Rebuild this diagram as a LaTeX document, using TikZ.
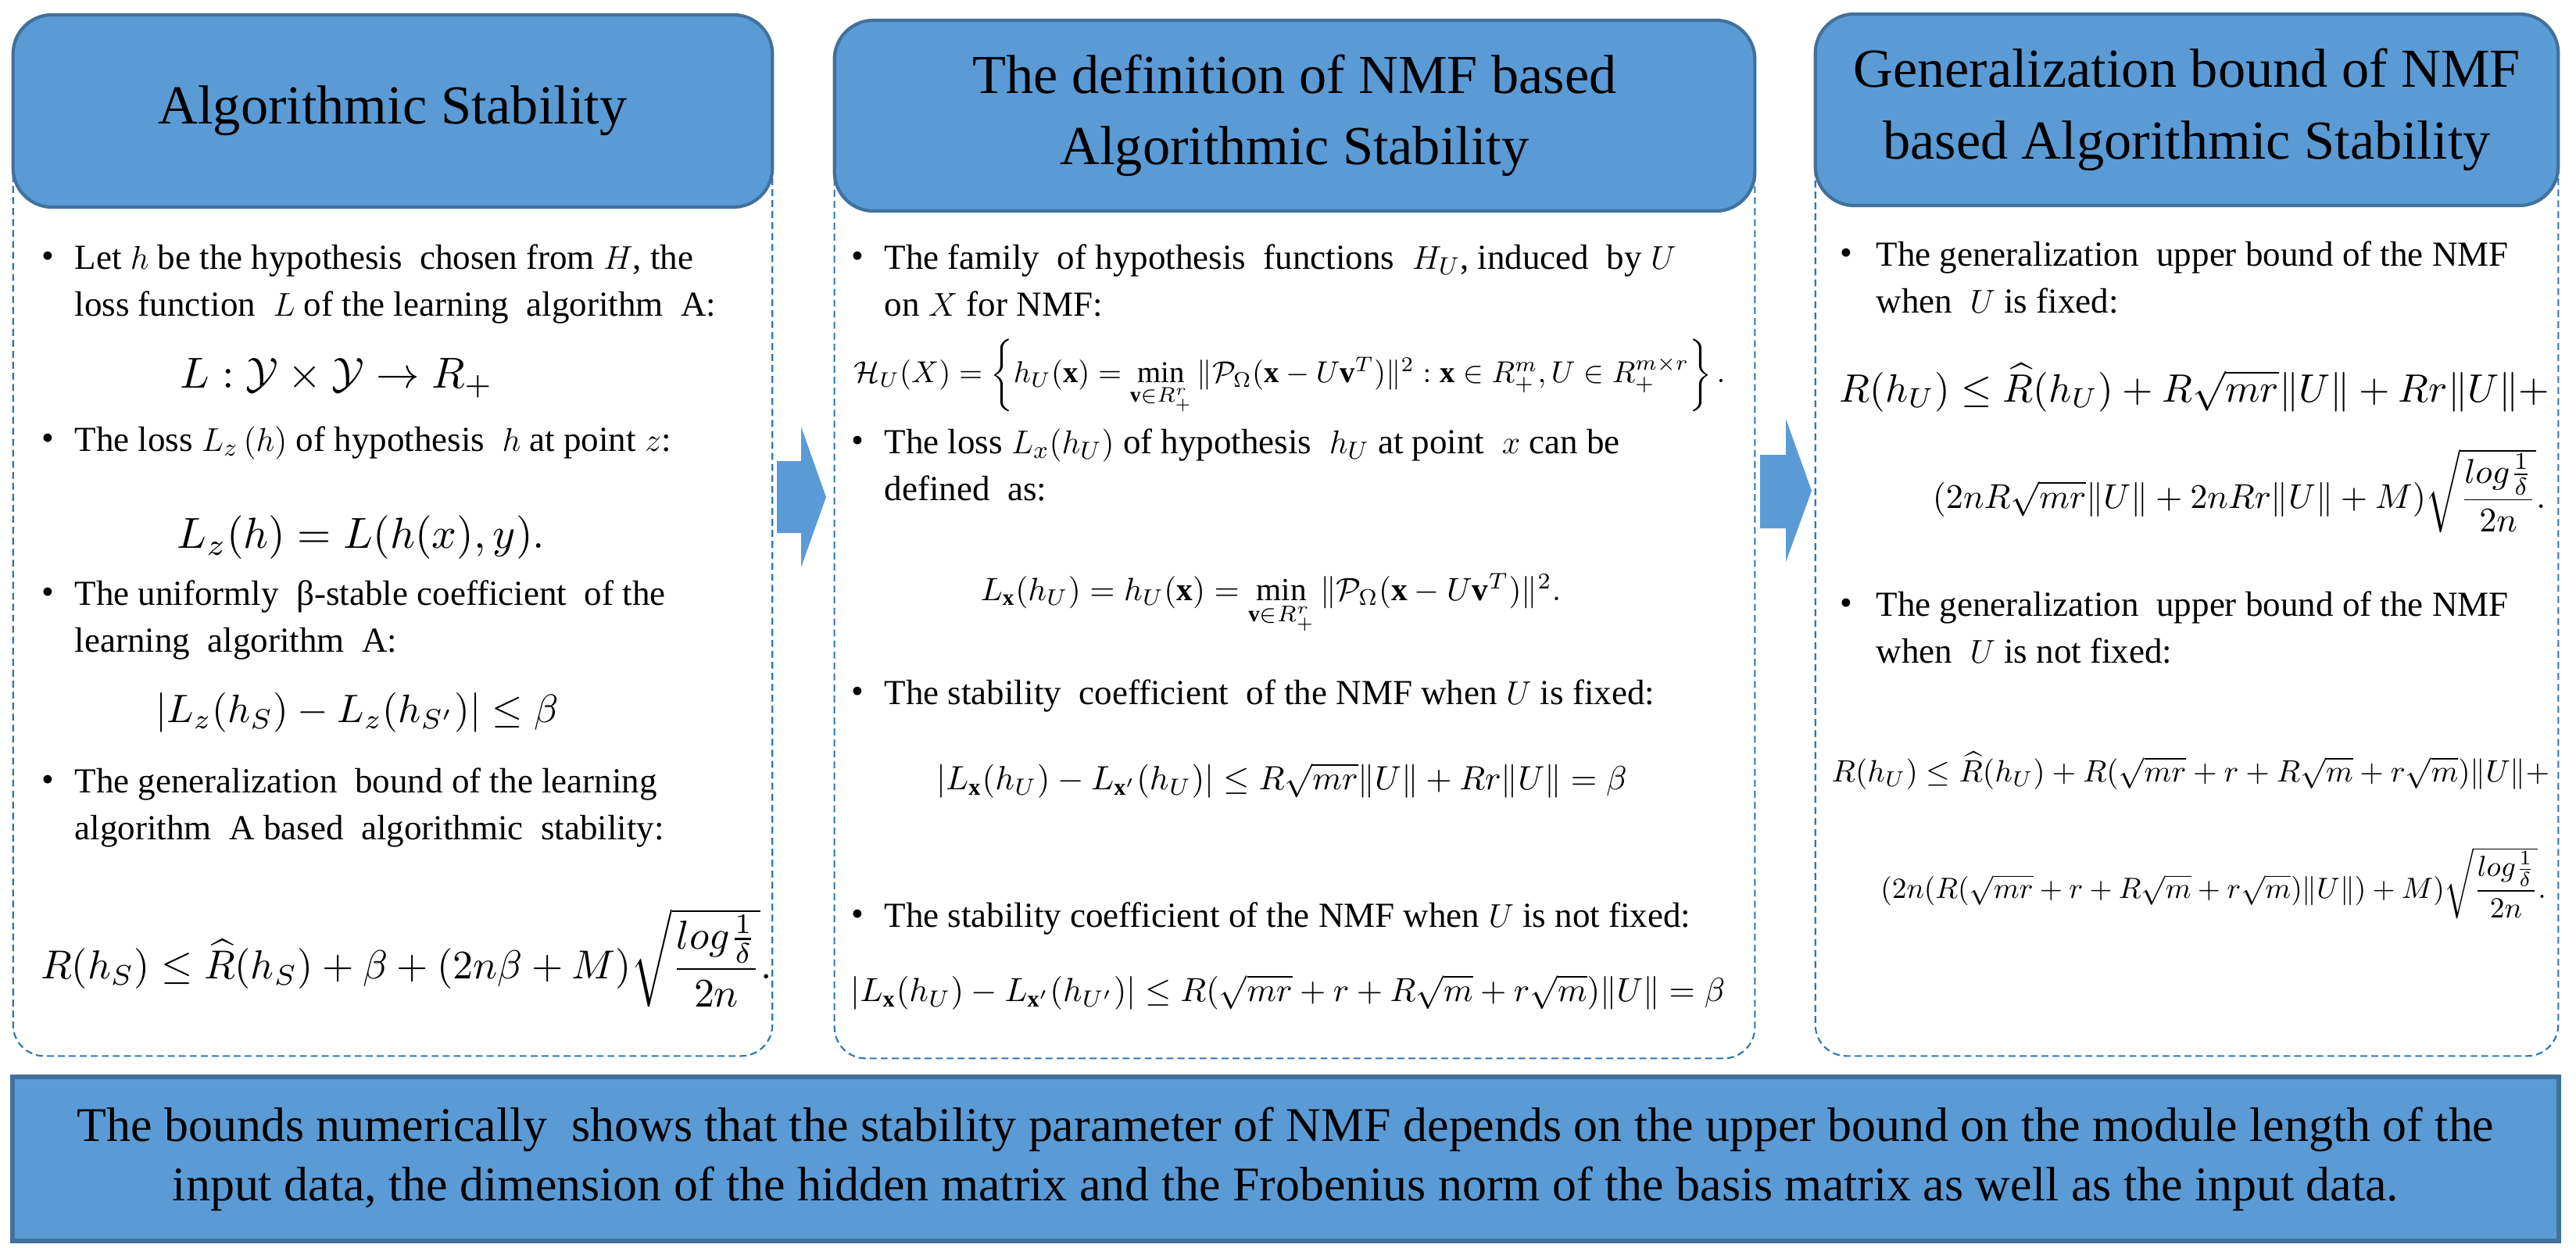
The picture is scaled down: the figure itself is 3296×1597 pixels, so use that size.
\documentclass[tikz,border=0pt]{standalone}
\usepackage{fontspec}
\setmainfont{Liberation Serif}
\usepackage{amsmath,amssymb,graphicx}
\definecolor{hdr}{HTML}{5B9BD5}
\definecolor{hdrb}{HTML}{41719C}
\definecolor{dsh}{HTML}{2E75B6}
\begin{document}
\begin{tikzpicture}[x=0.01cm,y=-0.01cm,
  hdr/.style={draw=hdrb,line width=1.2pt,fill=hdr,rounded corners=0.5cm,align=center,inner sep=0pt,font=\fontsize{20}{26}\selectfont},
  body/.style={draw=dsh,dashed,line width=0.6pt,rounded corners=0.4cm,inner sep=0pt,dash pattern=on 2.5pt off 1.5pt},
  txt/.style={anchor=north west,align=left,inner sep=0pt,font=\fontsize{12.8}{17.2}\selectfont},
  bul/.style={anchor=north west,inner sep=0pt,yshift=-0.1cm,font=\fontsize{12.8}{17.2}\selectfont},
  fml/.style={inner sep=0pt},
  barrow/.style={fill=hdr,draw=none}]
\useasboundingbox (0,0) rectangle (3296,1597);
% panel bodies
\node[body,minimum width=9.71cm,minimum height=12.11cm] (b1) at (502.5,745.5) {};
\node[body,minimum width=11.77cm,minimum height=12.14cm] (b2) at (1656.5,747) {};
\node[body,minimum width=9.50cm,minimum height=12.11cm] (b3) at (2798,745.5) {};
% headers
\node[hdr,minimum width=9.71cm,minimum height=2.46cm] (h1) at (502.5,142) {Algorithmic Stability};
\node[hdr,minimum width=11.77cm,minimum height=2.44cm] (h2) at (1656.5,148) {The definition of NMF based\\Algorithmic Stability};
\node[hdr,minimum width=9.50cm,minimum height=2.45cm] (h3) at (2798,140.5) {Generalization bound of NMF\\based Algorithmic Stability};
% arrows
\fill[barrow] (994,590) -- (1025,590) -- (1025,546) -- (1057,636) -- (1025,726) -- (1025,682) -- (994,682) -- cycle;
\fill[barrow] (2252,582) -- (2285,582) -- (2285,536) -- (2318,628) -- (2285,719) -- (2285,676) -- (2252,676) -- cycle;
% panel 1
\node[bul] (p1a) at (53,312) {\textbullet};
\node[txt] (t1a) at (95,312) {Let $h$ be the hypothesis\ \ chosen from $H$, the\\loss function\ \ $L$ of the learning\ \ algorithm\ \ A:};
\node[fml] (f1) at (431,484) {\resizebox{4.0cm}{!}{$L:\mathcal{Y}\times\mathcal{Y}\to R_+$}};
\node[bul] (p1b) at (53,545) {\textbullet};
\node[txt] (t1b) at (95,545) {The loss $L_z\,(h)$ of hypothesis\ \ $h$ at point $z$:};
\node[fml] (f2) at (462,688) {\resizebox{4.7cm}{!}{$L_z(h)=L(h(x),y).$}};
\node[bul] (p1c) at (53,742) {\textbullet};
\node[txt] (t1c) at (95,742) {The uniformly\ \ β-stable coefficient\ \ of the\\learning\ \ algorithm\ \ A:};
\node[fml] (f3) at (457,912) {\resizebox{5.15cm}{!}{$|L_z(h_S)-L_z(h_{S'})|\le\beta$}};
\node[bul] (p1d) at (53,982) {\textbullet};
\node[txt] (t1d) at (95,982) {The generalization\ \ bound of the learning\\algorithm\ \ A based\ \ algorithmic\ \ stability:};
\node[fml] (f4) at (520,1226) {\resizebox{9.35cm}{!}{$R(h_S)\le\widehat{R}(h_S)+\beta+(2n\beta+M)\sqrt{\dfrac{log\frac{1}{\delta}}{2n}}.$}};
% panel 2
\node[bul] (p2a) at (1089,312) {\textbullet};
\node[txt] (t2a) at (1131,312) {The family\ \ of hypothesis\ \ functions\ \ $H_U$, induced\ \ by $U$\\on $X$ for NMF:};
\node[fml] (f5) at (1650,482) {\resizebox{11.14cm}{!}{$\mathcal{H}_U(X)=\left\{h_U(\mathbf{x})=\min\limits_{\mathbf{v}\in R_+^r}\|\mathcal{P}_\Omega(\mathbf{x}-U\mathbf{v}^T)\|^2:\mathbf{x}\in R_+^m,U\in R_+^{m\times r}\right\}.$}};
\node[bul] (p2b) at (1089,548) {\textbullet};
\node[txt] (t2b) at (1131,548) {The loss $L_x(h_U)$ of hypothesis\ \ $h_U$ at point\ \ $x$ can be\\defined\ \ as:};
\node[fml] (f6) at (1626,773) {\resizebox{7.42cm}{!}{$L_{\mathbf{x}}(h_U)=h_U(\mathbf{x})=\min\limits_{\mathbf{v}\in R_+^r}\|\mathcal{P}_\Omega(\mathbf{x}-U\mathbf{v}^T)\|^2.$}};
\node[bul] (p2c) at (1089,869) {\textbullet};
\node[txt] (t2c) at (1131,869) {The stability\ \ coefficient\ \ of the NMF when $U$ is fixed:};
\node[fml] (f7) at (1640,999) {\resizebox{8.83cm}{!}{$|L_{\mathbf{x}}(h_U)-L_{\mathbf{x}'}(h_U)|\le R\sqrt{mr}\|U\|+Rr\|U\|=\beta$}};
\node[bul] (p2d) at (1089,1154) {\textbullet};
\node[txt] (t2d) at (1131,1154) {The stability coefficient of the NMF when $U$ is not fixed:};
\node[fml] (f8) at (1648,1270) {\resizebox{11.18cm}{!}{$|L_{\mathbf{x}}(h_U)-L_{\mathbf{x}'}(h_{U'})|\le R(\sqrt{mr}+r+R\sqrt{m}+r\sqrt{m})\|U\|=\beta$}};
% panel 3
\node[bul] (p3a) at (2354,308) {\textbullet};
\node[txt] (t3a) at (2400,308) {The generalization\ \ upper bound of the NMF\\when\ \ $U$ is fixed:};
\node[fml] (f9) at (2808,496) {\resizebox{9.08cm}{!}{$R(h_U)\le\widehat{R}(h_U)+R\sqrt{mr}\|U\|+Rr\|U\|+$}};
\node[fml,anchor=east] (f10) at (3258,628) {\resizebox{7.84cm}{!}{$(2nR\sqrt{mr}\|U\|+2nRr\|U\|+M)\sqrt{\dfrac{log\frac{1}{\delta}}{2n}}.$}};
\node[bul] (p3b) at (2354,756) {\textbullet};
\node[txt] (t3b) at (2400,756) {The generalization\ \ upper bound of the NMF\\when\ \ $U$ is not fixed:};
\node[fml] (f11) at (2803,986) {\resizebox{9.18cm}{!}{$R(h_U)\le\widehat{R}(h_U)+R(\sqrt{mr}+r+R\sqrt{m}+r\sqrt{m})\|U\|+$}};
\node[fml] (f12) at (2832,1130) {\resizebox{8.51cm}{!}{$(2n(R(\sqrt{mr}+r+R\sqrt{m}+r\sqrt{m})\|U\|)+M)\sqrt{\dfrac{log\frac{1}{\delta}}{2n}}.$}};
% bottom
\node[draw=hdrb,line width=1.5pt,fill=hdr,minimum width=32.56cm,minimum height=2.10cm,align=center,inner sep=0pt,font=\fontsize{17.6}{21.5}\selectfont] (conc) at (1645,1483) {The bounds numerically\ \ shows that the stability parameter of NMF depends on the upper bound on the module length of the\\input data, the dimension of the hidden matrix and the Frobenius norm of the basis matrix as well as the input data.};
\end{tikzpicture}
\end{document}
